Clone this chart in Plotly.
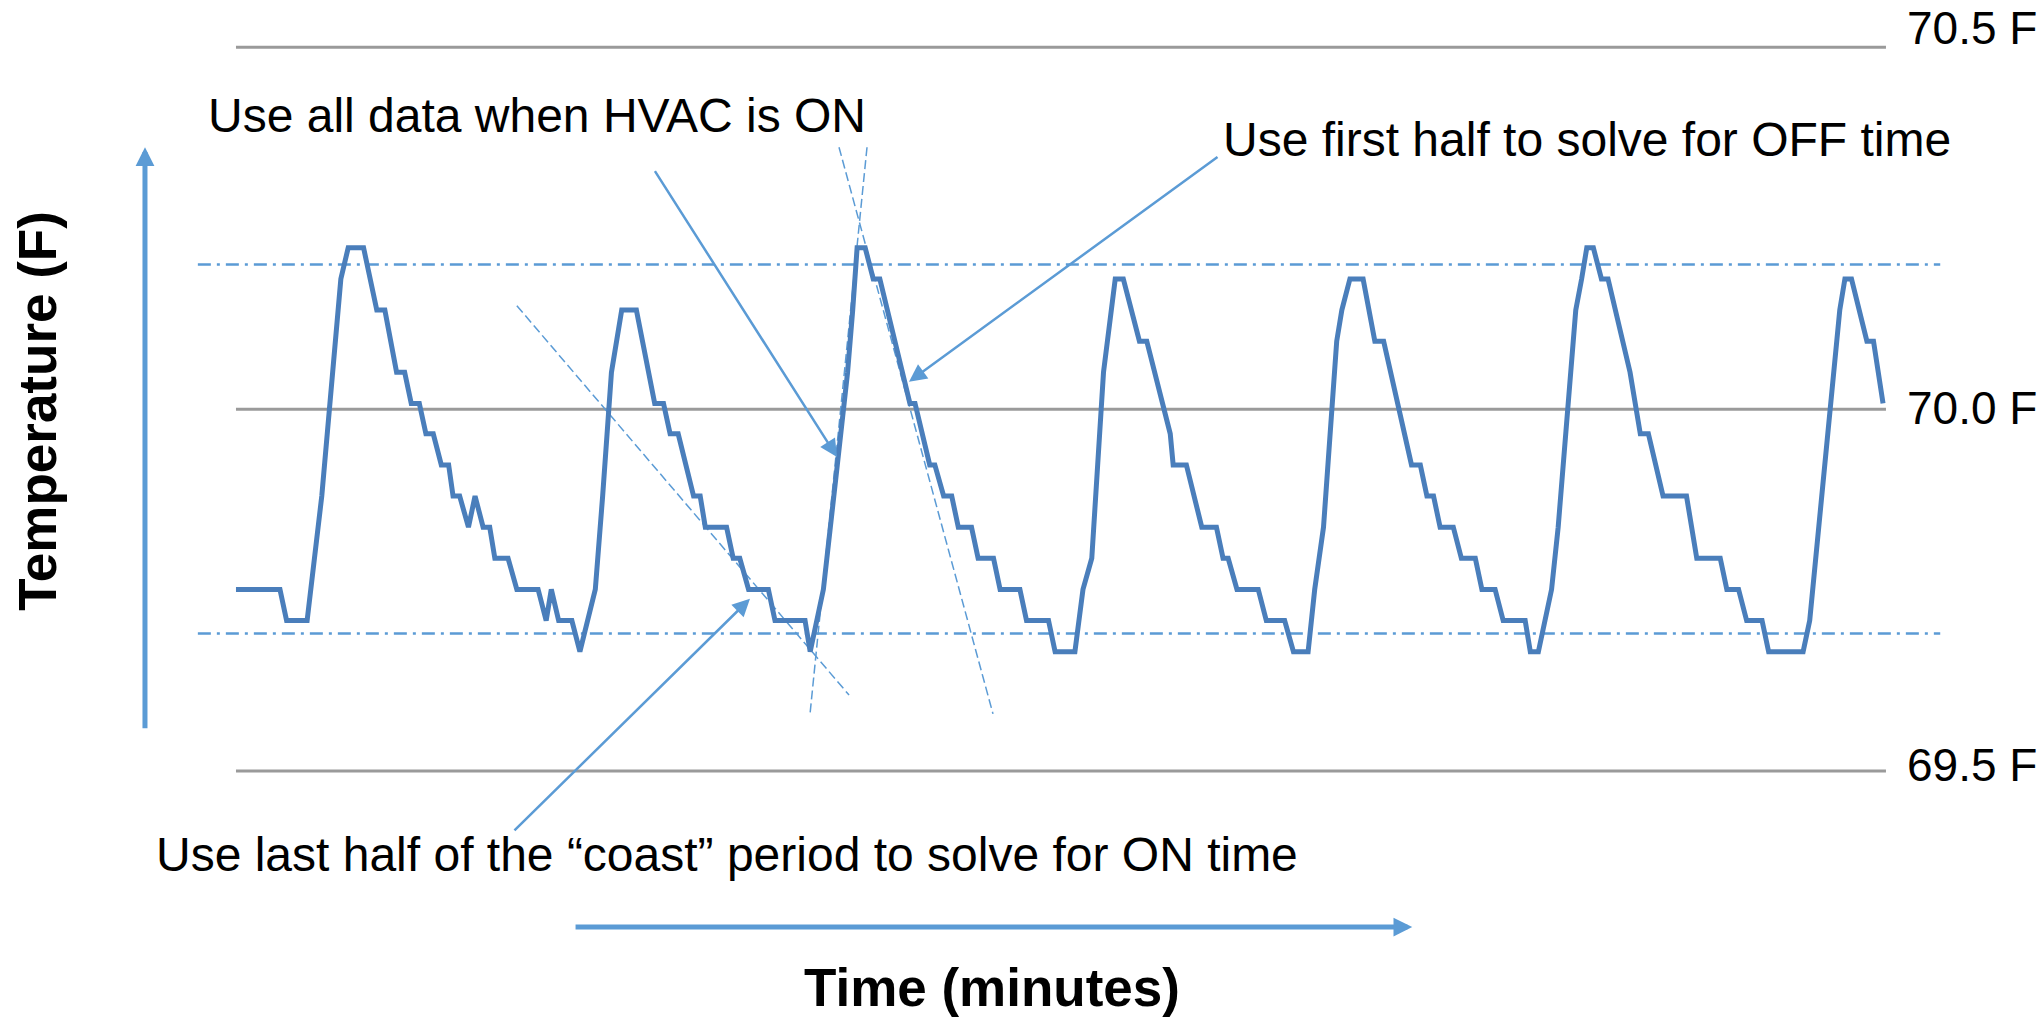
"""
Thermostat cycling chart: room temperature trace with the fit lines used
to solve for HVAC ON / OFF times.
"""
import plotly.graph_objects as go

# ---- data ---------------------------------------------------------------
# temperature trace, one vertex per corner of the logged (stepped) signal
time_min = [
    0, 6.0, 6.9, 9.7, 11.7, 13.6, 14.3, 15.3, 17.4, 19.2, 20.3, 21.9, 23.0, 23.9,
    25.0, 25.9, 26.9, 28.0, 29.0, 29.6, 30.5, 31.7, 32.6, 33.7, 34.6, 35.3, 37.1,
    38.3, 41.2, 42.3, 43.0, 44.0, 45.8, 46.9,
    49.0, 50.0, 51.2, 52.6, 54.6, 57.1, 58.3, 59.2, 60.3, 62.4, 63.3, 64.0, 66.9,
    67.8, 68.7, 69.9, 72.6, 73.5, 77.6, 78.3,
    80.1, 82.0, 83.4, 84.1, 84.7, 85.8, 86.9, 87.8, 91.9, 92.6, 94.6, 95.3, 96.5,
    97.6, 98.5, 100.3, 101.2, 103.3, 104.2, 106.9, 107.8, 110.8, 111.7, 114.4,
    115.5, 116.7, 118.3, 119.9, 121.0, 123.2, 124.2, 127.4, 127.8, 129.6, 131.7,
    133.7, 134.6, 135.3, 136.5, 139.4, 140.5, 143.0, 144.2, 146.2,
    147.1, 148.3, 149.4, 150.1, 150.8, 151.9, 153.7, 155.3, 156.5, 160.3, 161.5,
    162.4, 163.3, 164.2, 166.0, 167.1, 169.0, 169.9, 171.7, 172.8, 175.8, 176.5,
    177.6,
    179.4, 180.3, 181.7, 182.7, 183.5, 184.2, 185.1, 186.2, 187.1, 190.1, 191.5,
    192.6, 194.6, 197.8, 199.2, 202.4, 203.3, 204.9, 206.0, 208.1, 209.0, 213.7,
    214.6, 216.2, 217.8, 218.7, 219.4, 220.3, 222.4, 223.3, 224.6,
]
temp_f = [
    69.751, 69.751, 69.708, 69.708, 69.880, 70.094, 70.180, 70.223, 70.223, 70.137,
    70.137, 70.051, 70.051, 70.008, 70.008, 69.966, 69.966, 69.923, 69.923, 69.880,
    69.880, 69.837, 69.880, 69.837, 69.837, 69.794, 69.794, 69.751, 69.751, 69.708,
    69.751, 69.708, 69.708, 69.665,
    69.751, 69.880, 70.051, 70.137, 70.137, 70.008, 70.008, 69.966, 69.966, 69.880,
    69.880, 69.837, 69.837, 69.794, 69.794, 69.751, 69.751, 69.708, 69.708, 69.665,
    69.751, 69.923, 70.051, 70.137, 70.223, 70.223, 70.180, 70.180, 70.008, 70.008,
    69.923, 69.923, 69.880, 69.880, 69.837, 69.837, 69.794, 69.794, 69.751, 69.751,
    69.708, 69.708, 69.665, 69.665,
    69.751, 69.794, 70.051, 70.180, 70.180, 70.094, 70.094, 69.966, 69.923, 69.923,
    69.837, 69.837, 69.794, 69.794, 69.751, 69.751, 69.708, 69.708, 69.665, 69.665,
    69.751, 69.837, 70.008, 70.094, 70.137, 70.180, 70.180, 70.094, 70.094, 69.923,
    69.923, 69.880, 69.880, 69.837, 69.837, 69.794, 69.794, 69.751, 69.751, 69.708,
    69.708, 69.665, 69.665,
    69.751, 69.837, 70.008, 70.137, 70.180, 70.223, 70.223, 70.180, 70.180, 70.051,
    69.966, 69.966, 69.880, 69.880, 69.794, 69.794, 69.751, 69.751, 69.708, 69.708,
    69.665, 69.665,
    69.708, 69.880, 70.051, 70.137, 70.180, 70.180, 70.094, 70.094, 70.008,
]

# grey reference levels and the dash-dot band (upper / lower swing)
ref_temps = [69.5, 70.0, 70.5]
ref_labels = ["69.5 F", "70.0 F", "70.5 F"]
band_temps = [69.69, 70.20]

# dashed fit lines: (t0, T0, t1, T1)
fit_lines = [
    (38.3, 70.143, 83.6, 69.605),    # coast slope
    (86.05, 70.362, 78.28, 69.579),  # ON slope
    (82.23, 70.362, 103.23, 69.579), # OFF slope
]

BLUE_TRACE = "#4A7EBB"
BLUE = "#5B9BD5"
FONT = "Arial, Liberation Sans, sans-serif"

fig = go.Figure()

# reference lines
for t in ref_temps:
    fig.add_shape(type="line", x0=0, x1=225, y0=t, y1=t, xref="x", yref="y",
                  line=dict(color="#9A9A9A", width=3), layer="below")
for t in band_temps:
    fig.add_shape(type="line", x0=-5.2, x1=232.4, y0=t, y1=t, xref="x", yref="y",
                  line=dict(color=BLUE, width=2.5, dash="13px,6px,3px,6px"),
                  layer="below")
for x0, y0, x1, y1 in fit_lines:
    fig.add_shape(type="line", x0=x0, y0=y0, x1=x1, y1=y1, xref="x", yref="y",
                  line=dict(color=BLUE, width=1.5, dash="9px,4px"), layer="below")

fig.add_trace(go.Scatter(
    x=time_min, y=temp_f, mode="lines",
    line=dict(color=BLUE_TRACE, width=5),
    hoverinfo="skip", showlegend=False,
))

# arrows (tip x,y <- tail ax,ay)
arrows = [
    (81.96, 69.934, 57.0, 70.331, 2.5, 1.4),     # HVAC ON
    (91.78, 70.038, 134.05, 70.350, 2.5, 1.4),   # OFF time
    (70.09, 69.738, 37.77, 69.416, 2.5, 1.4),    # coast
    (-12.41, 70.362, -12.41, 69.557, 5, 0.75),   # y axis
    (160.4, 69.2845, 46.1, 69.2845, 5, 0.75),    # x axis
]
for x, y, ax, ay, w, s in arrows:
    fig.add_annotation(x=x, y=y, ax=ax, ay=ay, xref="x", yref="y",
                       axref="x", ayref="y", text="", showarrow=True,
                       arrowhead=2, arrowsize=s, arrowwidth=w,
                       arrowcolor=BLUE, standoff=0, startstandoff=0)

notes = [
    (-4.09, 70.4065, "Use all data when HVAC is ON"),
    (134.3, 70.372, "Use first half to solve for OFF time"),
    (-11.18, 69.385, "Use last half of the \u201ccoast\u201d period to solve for ON time"),
]
for x, y, txt in notes:
    fig.add_annotation(x=x, y=y, xref="x", yref="y", text=txt, showarrow=False,
                       xanchor="left", yanchor="middle",
                       font=dict(family=FONT, size=48, color="black"))

label_y = [69.509, 70.002, 70.527]
for y, txt in zip(label_y, ref_labels):
    fig.add_annotation(x=227.6, y=y, xref="x", yref="y", text=txt, showarrow=False,
                       xanchor="left", yanchor="middle",
                       font=dict(family=FONT, size=46, color="black"))

fig.add_annotation(x=103.1, y=69.201, xref="x", yref="y", text="<b>Time (minutes)</b>",
                   showarrow=False, xanchor="center", yanchor="middle",
                   font=dict(family=FONT, size=53, color="black"))
fig.add_annotation(x=-27.0, y=69.998, xref="x", yref="y", text="<b>Temperature (F)</b>",
                   showarrow=False, textangle=-90, xanchor="center", yanchor="middle",
                   font=dict(family=FONT, size=53, color="black"))

fig.update_layout(
    width=2044, height=1018,
    margin=dict(l=0, r=0, t=0, b=0),
    paper_bgcolor="white", plot_bgcolor="white",
    xaxis=dict(range=[-32.18, 246.55], visible=False, fixedrange=True),
    yaxis=dict(range=[69.1588, 70.5654], visible=False, fixedrange=True),
    showlegend=False,
)

fig.write_html("out.html", config={"displayModeBar": False},
               post_script="document.body.style.margin='0';")
